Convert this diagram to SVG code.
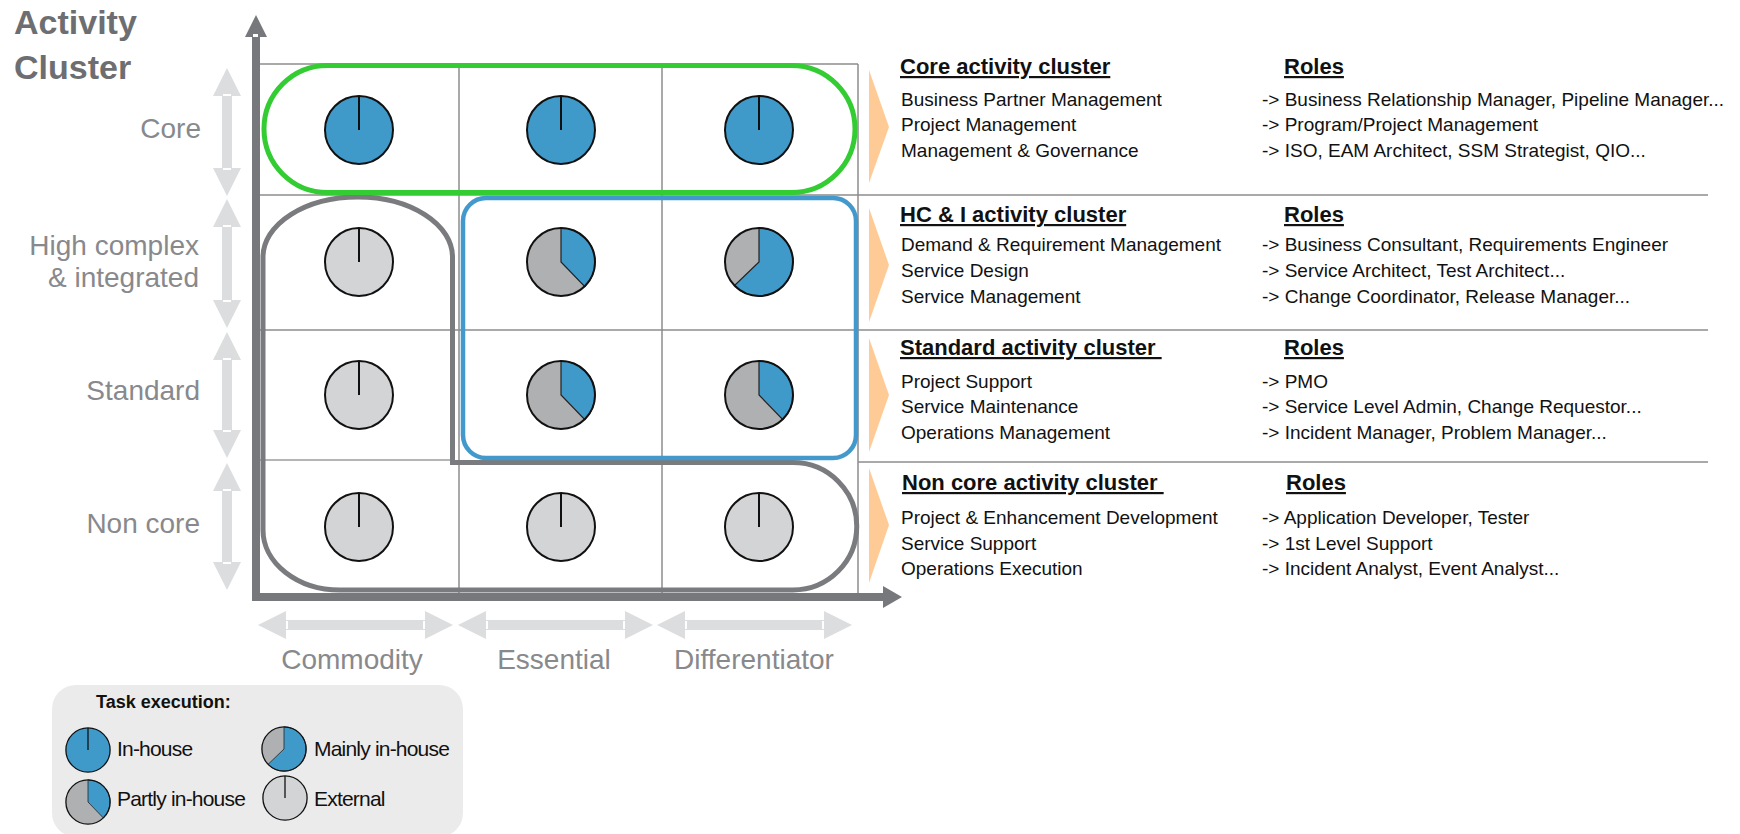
<svg xmlns="http://www.w3.org/2000/svg" xmlns:xlink="http://www.w3.org/1999/xlink" width="1740" height="834" viewBox="0 0 1740 834">
<style>
.grid{stroke:#8c8c8c;stroke-width:1.5;fill:none}
.sep{stroke:#8c8c8c;stroke-width:1.5}
.lbl{font-family:"Liberation Sans",Arial,sans-serif;font-size:28px;fill:#88898c}
.ttl{font-family:"Liberation Sans",Arial,sans-serif;font-size:34px;font-weight:bold;fill:#6d6e71}
.hd{font-family:"Liberation Sans",Arial,sans-serif;font-size:22px;font-weight:bold;fill:#111;text-decoration:underline;white-space:pre}
.bd{font-family:"Liberation Sans",Arial,sans-serif;font-size:19px;fill:#111}
.lg{font-family:"Liberation Sans",Arial,sans-serif;font-size:21px;letter-spacing:-0.8px;fill:#111}
.lgt{font-family:"Liberation Sans",Arial,sans-serif;font-size:18px;font-weight:bold;fill:#111}
.harrow{fill:#dcdddf}
.notch{fill:#ffffff}
.chev{fill:#fecb96}
.axis{fill:#77787b}
</style>
<defs>
<g id="pie-in">
<circle r="34" fill="#3f99c9" stroke="#111" stroke-width="2"/>
<line x1="0" y1="0" x2="0" y2="-34" stroke="#111" stroke-width="2"/>
</g>
<g id="pie-ext">
<circle r="34" fill="#d3d4d6" stroke="#111" stroke-width="2"/>
<line x1="0" y1="0" x2="0" y2="-34" stroke="#111" stroke-width="2"/>
</g>
<g id="pie-partly">
<circle r="34" fill="#aeb0b2"/>
<path d="M0 0 L0 -34 A34 34 0 0 1 23.6 24.5 Z" fill="#3f99c9" stroke="#222" stroke-width="1.2"/>
<circle r="34" fill="none" stroke="#111" stroke-width="2"/>
</g>
<g id="pie-mainly">
<circle r="34" fill="#aeb0b2"/>
<path d="M0 0 L0 -34 A34 34 0 1 1 -24.5 23.6 Z" fill="#3f99c9" stroke="#222" stroke-width="1.2"/>
<circle r="34" fill="none" stroke="#111" stroke-width="2"/>
</g>
</defs>

<g id="title">
<text class="ttl" x="14" y="34">Activity</text>
<text class="ttl" x="14" y="79">Cluster</text>
</g>

<g id="grid">
<line class="grid" x1="260" y1="64" x2="858" y2="64"/>
<line class="grid" x1="459" y1="64" x2="459" y2="597"/>
<line class="grid" x1="662" y1="64" x2="662" y2="597"/>
<line class="grid" x1="858" y1="64" x2="858" y2="597"/>
<line class="grid" x1="260" y1="195" x2="1708" y2="195"/>
<line class="grid" x1="260" y1="330" x2="1708" y2="330"/>
<line x1="260" y1="460" x2="452" y2="460" stroke="#b4b5b7" stroke-width="2"/>
<line class="grid" x1="858" y1="462" x2="1708" y2="462"/>
</g>

<g id="row-arrows">
<polygon class="harrow" points="227,68 241,96 232,96 232,168 241,168 227,196 213,168 222,168 222,96 213,96"/>
<polygon class="harrow" points="227,199 241,227 232,227 232,300 241,300 227,328 213,300 222,300 222,227 213,227"/>
<polygon class="harrow" points="227,332 241,360 232,360 232,430 241,430 227,458 213,430 222,430 222,360 213,360"/>
<polygon class="harrow" points="227,463 241,491 232,491 232,562 241,562 227,590 213,562 222,562 222,491 213,491"/>
<rect class="notch" x="223" y="94" width="8" height="2"/>
<rect class="notch" x="223" y="168" width="8" height="2"/>
<rect class="notch" x="223" y="225" width="8" height="2"/>
<rect class="notch" x="223" y="300" width="8" height="2"/>
<rect class="notch" x="223" y="358" width="8" height="2"/>
<rect class="notch" x="223" y="430" width="8" height="2"/>
<rect class="notch" x="223" y="489" width="8" height="2"/>
<rect class="notch" x="223" y="562" width="8" height="2"/>
</g>

<g id="col-arrows">
<polygon class="harrow" points="258,625 286,611 286,620 425,620 425,611 453,625 425,639 425,630 286,630 286,639"/>
<polygon class="harrow" points="458,625 486,611 486,620 625,620 625,611 653,625 625,639 625,630 486,630 486,639"/>
<polygon class="harrow" points="657,625 685,611 685,620 824,620 824,611 852,625 824,639 824,630 685,630 685,639"/>
<rect class="notch" x="286" y="621" width="2" height="8"/>
<rect class="notch" x="423" y="621" width="2" height="8"/>
<rect class="notch" x="486" y="621" width="2" height="8"/>
<rect class="notch" x="623" y="621" width="2" height="8"/>
<rect class="notch" x="685" y="621" width="2" height="8"/>
<rect class="notch" x="822" y="621" width="2" height="8"/>
</g>

<g id="axis-labels">
<text class="lbl" x="201" y="138" text-anchor="end">Core</text>
<text class="lbl" x="199" y="255" text-anchor="end">High complex</text>
<text class="lbl" x="199" y="287" text-anchor="end">&amp; integrated</text>
<text class="lbl" x="200" y="400" text-anchor="end">Standard</text>
<text class="lbl" x="200" y="533" text-anchor="end">Non core</text>
<text class="lbl" x="352" y="669" text-anchor="middle">Commodity</text>
<text class="lbl" x="554" y="669" text-anchor="middle">Essential</text>
<text class="lbl" x="754" y="669" text-anchor="middle">Differentiator</text>
</g>

<g id="clusters">
<path id="cluster-commodity-noncore" d="M263 257 A94.75 60 0 0 1 452.5 257 L452.5 462.5 L793 462.5 A63.75 63.75 0 0 1 793 590 L340 590 A77 60 0 0 1 263 530 Z" fill="none" stroke="#7a7b7e" stroke-width="5"/>
<rect id="cluster-core" x="264" y="65.5" width="591" height="127" rx="63.5" fill="none" stroke="#33cc33" stroke-width="5"/>
<rect id="cluster-hci-standard" x="463" y="198" width="393" height="260" rx="23" fill="none" stroke="#4499cc" stroke-width="4.5"/>
</g>

<g id="cell-core-commodity"><use xlink:href="#pie-in" x="359" y="130"/></g>
<g id="cell-core-essential"><use xlink:href="#pie-in" x="561" y="130"/></g>
<g id="cell-core-differentiator"><use xlink:href="#pie-in" x="759" y="130"/></g>
<g id="cell-hci-commodity"><use xlink:href="#pie-ext" x="359" y="262"/></g>
<g id="cell-hci-essential"><use xlink:href="#pie-partly" x="561" y="262"/></g>
<g id="cell-hci-differentiator"><use xlink:href="#pie-mainly" x="759" y="262"/></g>
<g id="cell-standard-commodity"><use xlink:href="#pie-ext" x="359" y="395"/></g>
<g id="cell-standard-essential"><use xlink:href="#pie-partly" x="561" y="395"/></g>
<g id="cell-standard-differentiator"><use xlink:href="#pie-partly" x="759" y="395"/></g>
<g id="cell-noncore-commodity"><use xlink:href="#pie-ext" x="359" y="527"/></g>
<g id="cell-noncore-essential"><use xlink:href="#pie-ext" x="561" y="527"/></g>
<g id="cell-noncore-differentiator"><use xlink:href="#pie-ext" x="759" y="527"/></g>

<g id="axes">
<rect class="axis" x="252" y="36" width="8" height="565"/>
<polygon class="axis" points="256,15 267,37 245,37"/>
<rect class="notch" x="253" y="34" width="5" height="3"/>
<rect class="axis" x="252" y="593" width="632" height="8"/>
<polygon class="axis" points="902,597 883,586 883,608"/>
</g>

<g id="chevrons">
<polygon class="chev" points="869,70 889,127 869,183"/>
<polygon class="chev" points="869,208 889,265 869,322"/>
<polygon class="chev" points="869,338 889,395 869,452"/>
<polygon class="chev" points="869,468 889,525 869,583"/>
</g>

<g id="block-core">
<text class="hd" x="900" y="74">Core activity cluster</text>
<text class="hd" x="1284" y="74">Roles</text>
<text class="bd" x="901" y="106">Business Partner Management</text>
<text class="bd" x="901" y="131">Project Management</text>
<text class="bd" x="901" y="157">Management &amp; Governance</text>
<text class="bd" x="1262" y="106">-&gt; Business Relationship Manager, Pipeline Manager...</text>
<text class="bd" x="1262" y="131">-&gt; Program/Project Management</text>
<text class="bd" x="1262" y="157">-&gt; ISO, EAM Architect, SSM Strategist, QIO...</text>
</g>

<g id="block-hci">
<text class="hd" x="900" y="222">HC &amp; I activity cluster</text>
<text class="hd" x="1284" y="222">Roles</text>
<text class="bd" x="901" y="251">Demand &amp; Requirement Management</text>
<text class="bd" x="901" y="277">Service Design</text>
<text class="bd" x="901" y="303">Service Management</text>
<text class="bd" x="1262" y="251">-&gt; Business Consultant, Requirements Engineer</text>
<text class="bd" x="1262" y="277">-&gt; Service Architect, Test Architect...</text>
<text class="bd" x="1262" y="303">-&gt; Change Coordinator, Release Manager...</text>
</g>

<g id="block-standard">
<text class="hd" x="900" y="355" xml:space="preserve">Standard activity cluster </text>
<text class="hd" x="1284" y="355">Roles</text>
<text class="bd" x="901" y="388">Project Support</text>
<text class="bd" x="901" y="413">Service Maintenance</text>
<text class="bd" x="901" y="439">Operations Management</text>
<text class="bd" x="1262" y="388">-&gt; PMO</text>
<text class="bd" x="1262" y="413">-&gt; Service Level Admin, Change Requestor...</text>
<text class="bd" x="1262" y="439">-&gt; Incident Manager, Problem Manager...</text>
</g>

<g id="block-noncore">
<text class="hd" x="902" y="490" xml:space="preserve">Non core activity cluster </text>
<text class="hd" x="1286" y="490">Roles</text>
<text class="bd" x="901" y="524">Project &amp; Enhancement Development</text>
<text class="bd" x="901" y="550">Service Support</text>
<text class="bd" x="901" y="575">Operations Execution</text>
<text class="bd" x="1262" y="524">-&gt; Application Developer, Tester</text>
<text class="bd" x="1262" y="550">-&gt; 1st Level Support</text>
<text class="bd" x="1262" y="575">-&gt; Incident Analyst, Event Analyst...</text>
</g>

<g id="legend">
<rect x="52" y="685" width="411" height="152" rx="24" fill="#ebebec"/>
<text class="lgt" x="96" y="708">Task execution:</text>
<use xlink:href="#pie-in" transform="translate(88,750) scale(0.65)"/>
<text class="lg" x="117" y="756">In-house</text>
<use xlink:href="#pie-mainly" transform="translate(284,749) scale(0.65)"/>
<text class="lg" x="314" y="756">Mainly in-house</text>
<use xlink:href="#pie-partly" transform="translate(88,802) scale(0.65)"/>
<text class="lg" x="117" y="806">Partly in-house</text>
<use xlink:href="#pie-ext" transform="translate(285,798) scale(0.65)"/>
<text class="lg" x="314" y="806">External</text>
</g>
</svg>
